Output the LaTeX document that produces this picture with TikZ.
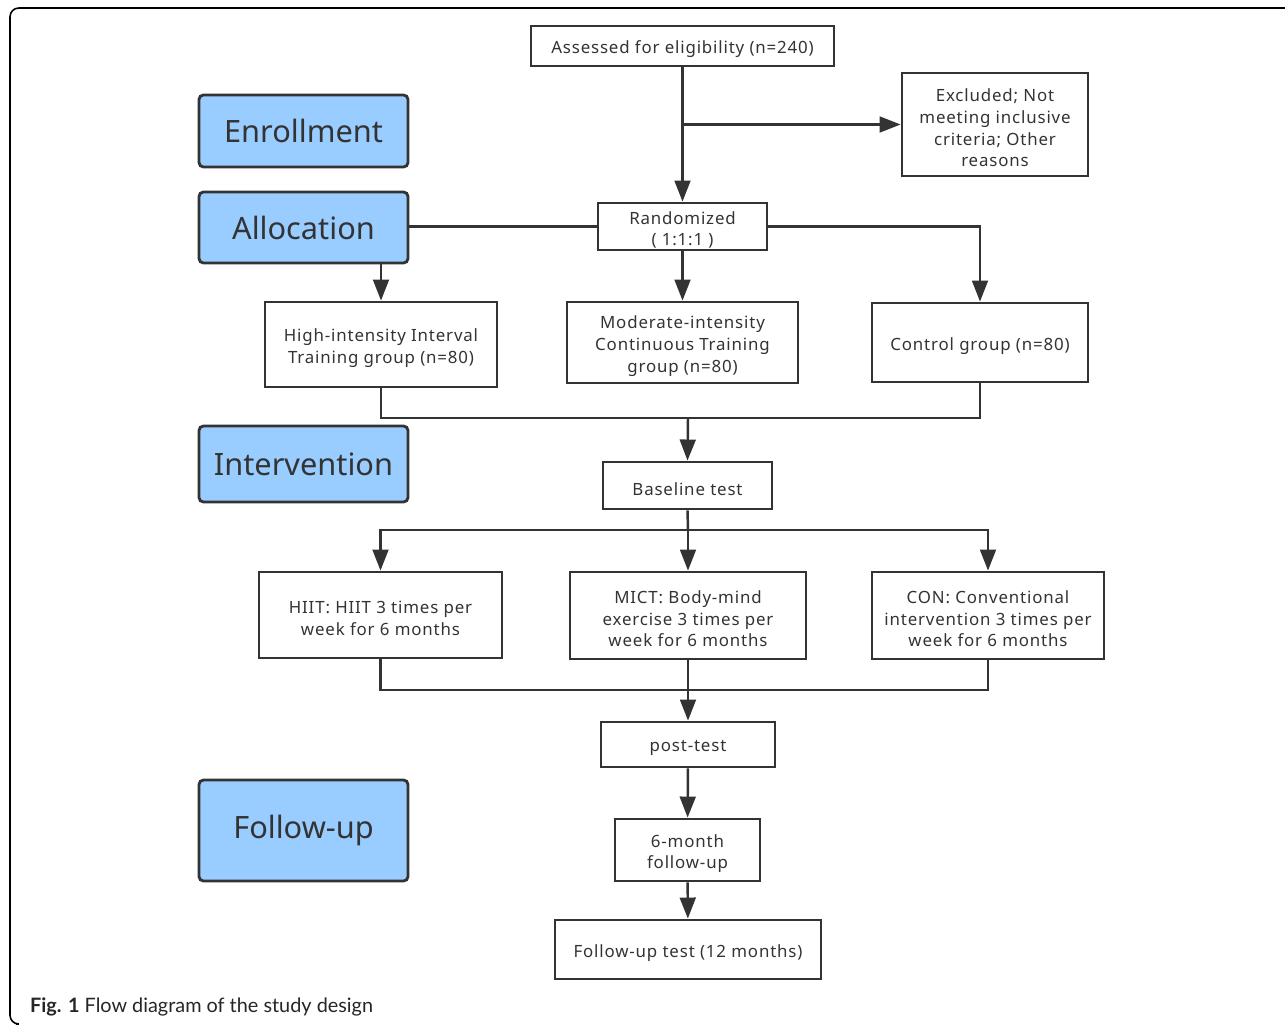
\documentclass[tikz,border=0pt]{standalone}
\usepackage{fontspec}
\setmainfont{Noto Sans}
\newfontfamily\boxfont{Noto Sans}[LetterSpace=5]
\newfontfamily\capfont{Lato}
\usepackage{tikz}
\usetikzlibrary{arrows.meta}
\definecolor{linegray}{HTML}{333333}
\definecolor{stageblue}{HTML}{99CCFF}

\begin{document}
\begin{tikzpicture}[
		x=0.02cm, y=-0.02cm,
		stage/.style ={
			rectangle,	rounded corners=2.5pt,	draw=linegray,	fill=stageblue,
			line width=1.6pt,	text=linegray,	inner sep=0pt,
			minimum width=4.18cm,	font=\fontsize{17.5}{20}\selectfont
		},
		block/.style ={
			rectangle,	draw=linegray,	text=linegray,	align=center,
			line width=1.6pt,	inner sep=0pt,
			font=\boxfont\fontsize{9.6}{12.3}\selectfont,
			execute at begin node={\setbox0=\hbox\bgroup},
			execute at end node={\egroup\rule{0pt}{\dimexpr\ht0+4pt\relax}\box0}
		},
		link/.style ={draw=linegray, line width=1.4pt},
		arrow/.style={link, -{Triangle[length=12pt, width=9pt]}},
	]

	\useasboundingbox (0,0) rectangle (1285,1025);

	% frame
	\draw [line width=0.9pt, rounded corners=5pt] (1300,8) -- (10,8) -- (10,1024) -- (16,1024);

	% stages
	\node (enroll)  at (303.5, 131)   [stage, minimum height=1.44cm] {Enrollment};
	\node (alloc)   at (303.5, 227.5) [stage, minimum height=1.42cm] {Allocation};
	\node (interv)  at (303.5, 464)   [stage, minimum height=1.52cm] {Intervention};
	\node (follow)  at (303.5, 830.5) [stage, minimum height=2.02cm] {Follow-up};

	% boxes
	\node (assess)  at (682.5, 46)    [block, minimum width=6.06cm, minimum height=0.80cm] {Assessed for eligibility (n=240)};
	\node (excl)    at (995, 124.5)   [block, minimum width=3.72cm, minimum height=2.06cm] {Excluded; Not\\meeting inclusive\\criteria; Other\\reasons};
	\node (random)  at (682.5, 226.5) [block, minimum width=3.38cm, minimum height=0.94cm] {Randomized\\( 1:1:1 )};

	\node (hiitg)   at (381, 344.5)   [block, minimum width=4.64cm, minimum height=1.70cm] {High-intensity Interval\\Training group (n=80)};
	\node (micg)    at (682.5, 342.5) [block, minimum width=4.62cm, minimum height=1.62cm] {Moderate-intensity\\Continuous Training\\group (n=80)};
	\node (ctrl)    at (980, 342.5)   [block, minimum width=4.32cm, minimum height=1.58cm] {Control group (n=80)};

	\node (base)    at (687.5, 485.5) [block, minimum width=3.38cm, minimum height=0.94cm] {Baseline test};

	\node (hiit)    at (380.5, 615)   [block, minimum width=4.86cm, minimum height=1.72cm] {HIIT: HIIT 3 times per\\week for 6 months};
	\node (mict)    at (688, 615.5)   [block, minimum width=4.72cm, minimum height=1.74cm] {MICT: Body-mind\\exercise 3 times per\\week for 6 months};
	\node (con)     at (988, 615.5)   [block, minimum width=4.64cm, minimum height=1.74cm] {CON: Conventional\\intervention 3 times per\\week for 6 months};

	\node (post)    at (688, 744.5)   [block, minimum width=3.48cm, minimum height=0.90cm] {post-test};
	\node (six)     at (687.5, 850)   [block, minimum width=2.90cm, minimum height=1.24cm] {6-month\\follow-up};
	\node (fut)     at (688, 949.5)   [block, minimum width=5.32cm, minimum height=1.18cm] {Follow-up test (12 months)};

	% caption
	\node (cap) at (24, 1007) [anchor=west, text=black!85, font=\capfont\fontsize{11.3}{12}\selectfont] {\textbf{Fig. 1} Flow diagram of the study design};

	% junctions
	\coordinate (merge1) at (688, 418);
	\coordinate (split)  at (688, 530);
	\coordinate (merge2) at (688, 690);

	% interconnections
	\draw [arrow] (assess) -- (random);
	\draw [arrow] (assess.south |- excl.west) -- (excl.west);

	\draw [link]  (alloc.east |- random.west) -- (random.west);
	\draw [arrow] (random.east) -| (ctrl.north);
	\draw [arrow] (alloc.south -| hiitg.north) -- (hiitg.north);
	\draw [arrow] (random) -- (micg);

	\draw [link]  (hiitg.south) |- (merge1) -| (ctrl.south);
	\draw [arrow] (merge1) -- (base.north);

	\draw [link]  (base.south) -- (split);
	\foreach \t in {hiit, con}
		\draw [arrow] (split) -| (\t.north);
	\draw [arrow] (split) -- (mict.north);

	\draw [link]  (hiit.south) |- (merge2) -| (con.south);
	\draw [arrow] (mict) -- (post);
	\draw [arrow] (post) -- (six);
	\draw [arrow] (six) -- (fut);

\end{tikzpicture}
\end{document}
